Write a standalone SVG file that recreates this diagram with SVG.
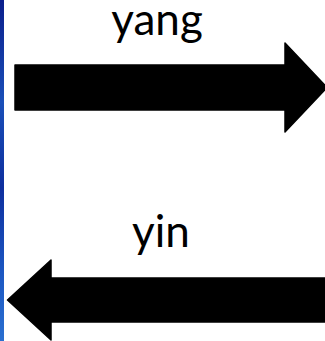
<svg xmlns="http://www.w3.org/2000/svg" width="325" height="341" viewBox="0 0 325 341">
<style>
.lbl{font-family:Lato,"Liberation Sans",sans-serif;font-size:44px;fill:#000;text-anchor:middle}
.arr{fill:#000;stroke:#000;stroke-width:1.5;stroke-linejoin:round}
</style>
<defs>
<linearGradient id="edge" x1="0" y1="0" x2="0" y2="1">
<stop offset="0" stop-color="#0b1f8c"/>
<stop offset="0.3" stop-color="#1a4fb8"/>
<stop offset="0.55" stop-color="#0e2f9e"/>
<stop offset="0.8" stop-color="#1c57c2"/>
<stop offset="1" stop-color="#2a6fd0"/>
</linearGradient>
</defs>
<rect width="325" height="341" fill="#fff"/>
<rect x="0" y="0" width="4" height="341" fill="url(#edge)"/>
<g id="yang">
<polygon class="arr" points="15,65 285,65 285,43 327,87.5 285,132 285,110 15,110"/>
<text class="lbl" x="157" y="35">yang</text>
</g>
<g id="yin">
<polygon class="arr" points="326,278 51,278 51,260 7.5,300 51,340 51,322 326,322"/>
<text class="lbl" x="161" y="247">yin</text>
</g>
<g id="connectors"/>
</svg>
